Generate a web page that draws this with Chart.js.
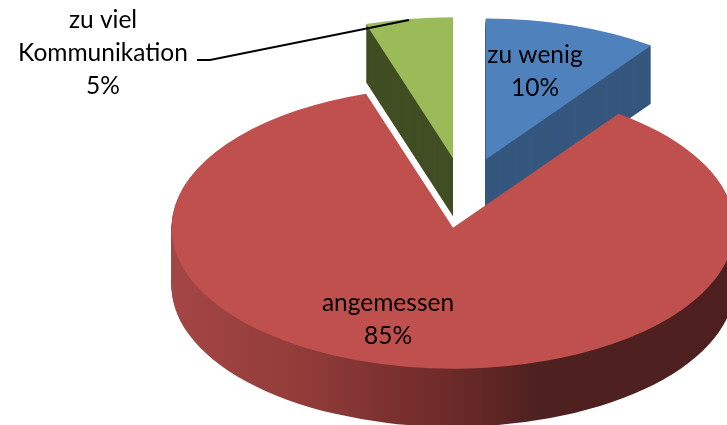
<!DOCTYPE html>
<html>
<head>
<meta charset="utf-8">
<style>
    html, body { margin: 0; padding: 0; background: #fff; }
    canvas { display: block; }
</style>
<script src="https://cdn.jsdelivr.net/npm/chart.js@4"></script>
</head>
<body>
<canvas id="main-graph" width="727" height="425"></canvas>
<script>
const categories = ['zu wenig', 'angemessen', 'zu viel Kommunikation'];
const shares = [10, 85, 5];
const topColors = ['#4f81bd', '#c0504d', '#9bbb59'];

// Label lines and where they sit on the page
const labelLines = [['zu wenig'], ['angemessen'], ['zu viel', 'Kommunikation']];
const labelSpots = [[535, 55], [388, 303], [103, 20]];
const lineHeight = 33;

// Flat pie -> tilted pie
const pieCenter = [464, 193];
const radiusX = 281.5;
const radiusY = 141;
const depth = 58;
const explode = 0.25;

const wallColors = ['#35567d', null, '#414e23'];
const redWallStops = [
    [171, '#a34645'],
    [300, '#923c3a'],
    [440, '#6f2b2a'],
    [540, '#4e201f'],
    [727, '#4d1f1e'],
];

const tiltPlugin = {
    id: 'tilt',
    // Draws the slices itself, so the default dataset draw is cancelled
    beforeDatasetDraw(chart, args) {
        const ctx = chart.ctx;
        const arcs = args.meta.data;
        const first = arcs[0];
        const scaleX = radiusX / first.outerRadius;
        const scaleY = radiusY / first.outerRadius;

        ctx.save();
        ctx.translate(pieCenter[0], pieCenter[1]);
        ctx.scale(scaleX, scaleY);
        ctx.translate(-first.x, -first.y);

        // gradient coordinates follow the transform, so convert them
        const toPieX = (x) => (x - pieCenter[0]) / scaleX + first.x;
        const redWall = ctx.createLinearGradient(toPieX(171), 0, toPieX(727), 0);
        redWallStops.forEach(([x, color]) => {
            redWall.addColorStop((x - 171) / (727 - 171), color);
        });

        const shiftOf = (arc) => {
            const mid = (arc.startAngle + arc.endAngle) / 2;
            const shift = arc.outerRadius * explode;
            return [Math.cos(mid) * shift, Math.sin(mid) * shift];
        };

        // Walls: back slices first, red one last
        [0, 2, 1].forEach((i) => {
            const arc = arcs[i];
            const [dx, dy] = shiftOf(arc);
            const x = arc.x + dx;
            const y = arc.y + dy;

            ctx.fillStyle = wallColors[i] || redWall;
            for (let k = depth; k >= 1; k--) {
                const down = k / scaleY;
                ctx.beginPath();
                ctx.moveTo(x, y + down);
                ctx.arc(x, y + down, arc.outerRadius, arc.startAngle, arc.endAngle);
                ctx.closePath();
                ctx.fill();
            }
        });

        // Top faces
        [0, 2, 1].forEach((i) => {
            const [dx, dy] = shiftOf(arcs[i]);
            ctx.save();
            ctx.translate(dx, dy);
            arcs[i].draw(ctx);
            ctx.restore();
        });

        ctx.restore();
        return false;
    },
};

const labelPlugin = {
    id: 'pieLabels',
    afterDraw(chart) {
        const ctx = chart.ctx;
        ctx.save();

        // Leader line for the small slice
        ctx.strokeStyle = '#000';
        ctx.lineWidth = 2;
        ctx.beginPath();
        ctx.moveTo(197, 60);
        ctx.lineTo(210, 60);
        ctx.lineTo(409, 20);
        ctx.stroke();

        ctx.fillStyle = '#000';
        ctx.font = '24.5px Lato';
        ctx.textAlign = 'center';
        ctx.textBaseline = 'middle';
        labelLines.forEach((lines, i) => {
            const [x, y] = labelSpots[i];
            const all = [...lines, shares[i] + '%'];
            all.forEach((line, n) => ctx.fillText(line, x, y + n * lineHeight));
        });
        ctx.restore();
    },
};

new Chart(document.getElementById('main-graph'), {
    type: 'pie',
    data: {
        labels: categories,
        datasets: [
            {
                data: shares,
                backgroundColor: topColors,
                borderWidth: 0,
            },
        ],
    },
    options: {
        responsive: false,
        animation: false,
        events: [],
        plugins: {
            legend: { display: false },
            tooltip: { enabled: false },
        },
    },
    plugins: [tiltPlugin, labelPlugin],
});
</script>
</body>
</html>
